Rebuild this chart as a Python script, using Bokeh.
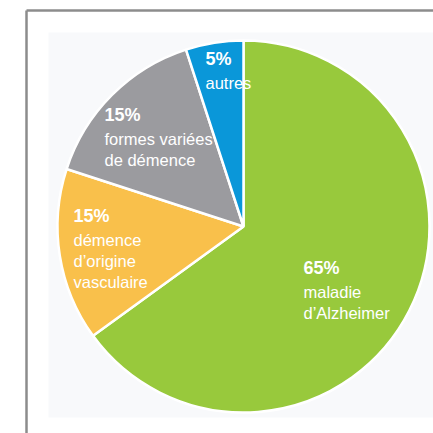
import math
from bokeh.plotting import figure
from bokeh.models import ColumnDataSource, Range1d
from bokeh.core.properties import value
from bokeh.embed import file_html
from bokeh.resources import INLINE

# ---- data ----
categories = ["maladie\nd’Alzheimer", "démence\nd’origine\nvasculaire",
              "formes variées\nde démence", "autres"]
shares = [65, 15, 15, 5]
colors = ["#98c93c", "#f9c04b", "#9b9b9f", "#0a97d9"]

# ---- layout (image pixel coords; y measured from top) ----
IMG = 433
CX, CY, R = 243, 226, 186
label_anchor = [(303, 267), (73, 215), (104, 114), (205, 58)]  # left x, pct baseline

def Y(yimg):
    return IMG - yimg

p = figure(width=433, height=433, output_backend="svg", toolbar_location=None,
           x_range=Range1d(0, 433), y_range=Range1d(0, 433),
           min_border=0, border_fill_color="white", background_fill_color="white")
p.axis.visible = False
p.grid.visible = False
p.outline_line_color = None

# faint panel background
p.quad(left=[48], right=[440], bottom=[Y(417)], top=[Y(32)],
       fill_color="#f8f9fb", line_color=None)

# frame (top and left lines)
p.segment(x0=[26, 26], y0=[Y(10), Y(10)], x1=[440, 26], y1=[Y(10), Y(440)],
          line_color="#8c8c8c", line_width=2.5)

# wedges: start at 12 o'clock, clockwise
total = sum(shares)
starts, ends = [], []
cur = math.pi / 2
for s in shares:
    a = 2 * math.pi * s / total
    ends.append(cur)
    starts.append(cur - a)
    cur -= a

src = ColumnDataSource(dict(start=starts, end=ends, color=colors))
p.wedge(x=CX, y=Y(CY), radius=R, start_angle="start", end_angle="end",
        direction="anticlock", fill_color="color", line_color="white",
        line_width=2.5, source=src)

# labels
px, py, ptxt = [], [], []
nx, ny, ntxt = [], [], []
for (ax, ay), s, cat in zip(label_anchor, shares, categories):
    px.append(ax); py.append(Y(ay)); ptxt.append(f"{s}%")
    for i, line in enumerate(cat.split("\n")):
        nx.append(ax); ny.append(Y(ay + 24 + 21 * i)); ntxt.append(line)

p.text(x=px, y=py, text=ptxt, text_color="white", text_font=value("Liberation Sans"),
       text_font_size="18px", text_font_style="bold", text_align="left",
       text_baseline="alphabetic")
p.text(x=nx, y=ny, text=ntxt, text_color="white", text_font=value("Liberation Sans"),
       text_font_size="16.5px", text_align="left", text_baseline="alphabetic")

open("out.html", "w").write(file_html(p, INLINE))
